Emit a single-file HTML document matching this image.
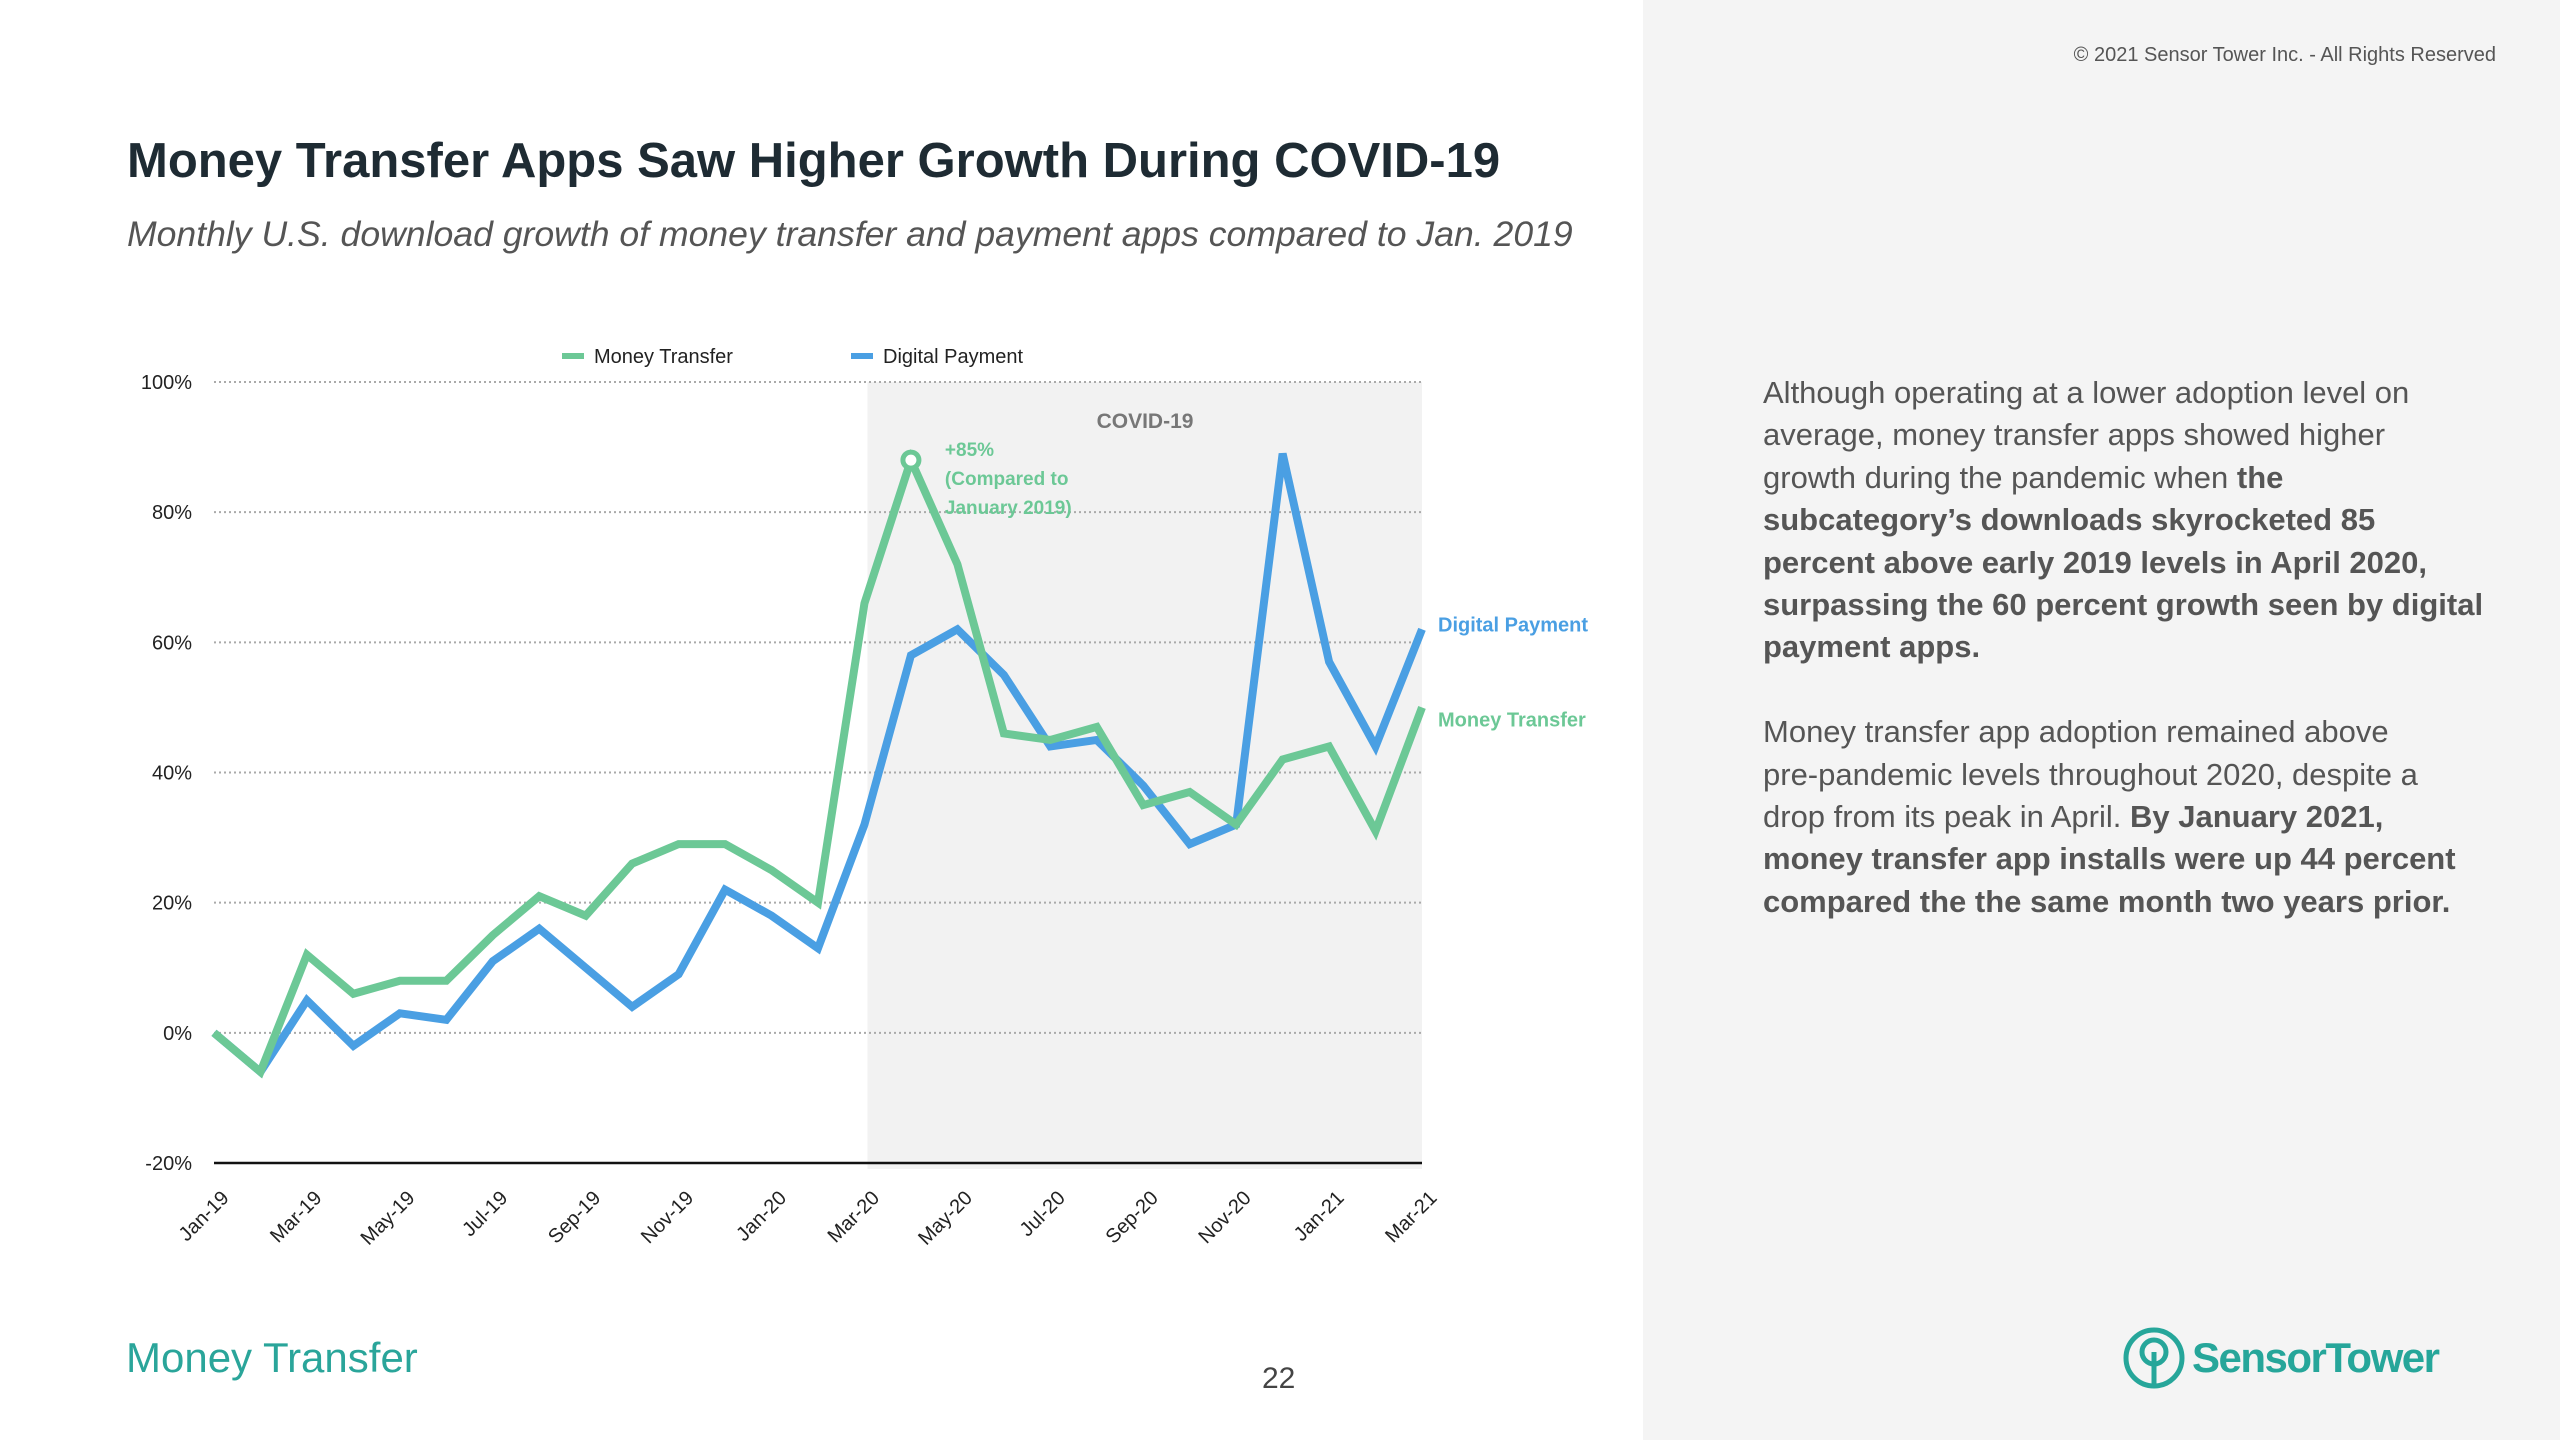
<!DOCTYPE html>
<html><head><meta charset="utf-8"><style>
body{margin:0;width:2560px;height:1440px;overflow:hidden;background:#fff;font-family:"Liberation Sans",sans-serif;position:relative}
.abs{position:absolute}
</style></head><body>
<div class="abs" style="left:1643px;top:0;width:917px;height:1440px;background:#f4f4f4"></div>
<div class="abs" style="right:64px;top:44px;font-size:20px;color:#555">© 2021 Sensor Tower Inc. - All Rights Reserved</div>
<div class="abs" style="left:127px;top:133px;font-size:49px;font-weight:bold;color:#1e2b33">Money Transfer Apps Saw Higher Growth During COVID-19</div>
<div class="abs" style="left:127px;top:214px;font-size:35.6px;font-style:italic;color:#555">Monthly U.S. download growth of money transfer and payment apps compared to Jan. 2019</div>
<div class="abs" style="left:1763px;top:372px;white-space:nowrap;font-size:31px;line-height:42.4px;color:#555">Although operating at a lower adoption level on<br>average, money transfer apps showed higher<br>growth during the pandemic when <b>the<br>subcategory’s downloads skyrocketed 85<br>percent above early 2019 levels in April 2020,<br>surpassing the 60 percent growth seen by digital<br>payment apps.</b><br><br>Money transfer app adoption remained above<br>pre-pandemic levels throughout 2020, despite a<br>drop from its peak in April. <b>By January 2021,<br>money transfer app installs were up 44 percent<br>compared the the same month two years prior.</b></div>
<div class="abs" style="left:126px;top:1334px;font-size:42px;color:#2aa59a">Money Transfer</div>
<div class="abs" style="left:1262px;top:1362px;font-size:30px;color:#444">22</div>
<div class="abs" style="left:2122px;top:1326px;height:64px;display:flex;align-items:center">
<svg width="64" height="64" viewBox="0 0 64 64"><circle cx="32" cy="32" r="28" fill="none" stroke="#26a69a" stroke-width="5"/><circle cx="32" cy="26" r="12" fill="none" stroke="#26a69a" stroke-width="5"/><line x1="32" y1="26" x2="32" y2="60" stroke="#26a69a" stroke-width="5"/></svg>
<span style="font-size:42px;font-weight:bold;color:#26a69a;margin-left:6px;letter-spacing:-1.5px">SensorTower</span></div>
<svg id="chart" class="abs" style="left:0;top:0" width="1643" height="1300"></svg>
<script>
const months=["Jan-19","Feb-19","Mar-19","Apr-19","May-19","Jun-19","Jul-19","Aug-19","Sep-19","Oct-19","Nov-19","Dec-19","Jan-20","Feb-20","Mar-20","Apr-20","May-20","Jun-20","Jul-20","Aug-20","Sep-20","Oct-20","Nov-20","Dec-20","Jan-21","Feb-21","Mar-21"];
const moneyTransfer=[0,-6,12,6,8,8,15,21,18,26,29,29,25,20,66,88,72,46,45,47,35,37,32,42,44,31,50];
const digitalPayment=[0,-6,5,-2,3,2,11,16,10,4,9,22,18,13,32,58,62,55,44,45,38,29,32,89,57,44,62];
const yTicks=[-20,0,20,40,60,80,100];
const yTickLabels=["-20%","0%","20%","40%","60%","80%","100%"];
const covidStart=14;
const peakIndex=15;
const svg=document.getElementById('chart');
const NS='http://www.w3.org/2000/svg';
const x0=214,x1=1422,yTop=382,yBot=1163;
const X=i=>x0+(x1-x0)*i/(months.length-1);
const Y=v=>yBot-(v+20)/120*(yBot-yTop);
function mk(t,a,txt){const e=document.createElementNS(NS,t);for(const k in a)e.setAttribute(k,a[k]);if(txt!==undefined)e.textContent=txt;svg.appendChild(e);return e;}
let r=mk('rect',{x:X(covidStart)+3,y:yTop,width:x1-X(covidStart)-3,height:yBot-yTop+6,fill:'#f2f2f2'});


let ct=mk('text',{x:1145,y:428,'font-size':21,'font-weight':'bold',fill:'#777','text-anchor':'middle'},'COVID-19');


yTicks.forEach((v,i)=>{
 if(v!==-20){let g=mk('line',{x1:x0,x2:x1,y1:Y(v),y2:Y(v),stroke:'#aaa','stroke-width':2,'stroke-dasharray':'2 3'});
 
 }
 let t=mk('text',{x:192,y:Y(v)+7,'font-size':20,fill:'#222','text-anchor':'end'},yTickLabels[i]);
 
 
});
let ax=mk('line',{x1:x0,x2:x1,y1:yBot,y2:yBot,stroke:'#111','stroke-width':2.5});


months.forEach((m,i)=>{if(i%2)return;
 let t=mk('text',{x:X(i)+16,y:yBot+36,'font-size':20,fill:'#222','text-anchor':'end',transform:`rotate(-45 ${X(i)+16} ${yBot+36})`},m);
 
 
});
function line(data,color,name){
 let p=mk('polyline',{points:data.map((v,i)=>X(i)+','+Y(v)).join(' '),fill:'none',stroke:color,'stroke-width':8,'stroke-linejoin':'miter'});
 
 
}
line(digitalPayment,'#4a9fe3','digital-payment-line');
line(moneyTransfer,'#6cc896','money-transfer-line');
let c=mk('circle',{cx:X(peakIndex),cy:Y(moneyTransfer[peakIndex]),r:8,fill:'#fff',stroke:'#6cc896','stroke-width':5});


['+85%','(Compared to','January 2019)'].forEach((s,i)=>{
 let t=mk('text',{x:X(peakIndex)+34,y:456+i*29,'font-size':19,'font-weight':'bold',fill:'#6cc896'},s);
 
 
});
let e1=mk('text',{x:1438,y:Y(digitalPayment[26])+2,'font-size':20,'font-weight':'bold',fill:'#4a9fe3'},'Digital Payment');


let e2=mk('text',{x:1438,y:Y(moneyTransfer[26])+19,'font-size':20,'font-weight':'bold',fill:'#6cc896'},'Money Transfer');


[[562,'#6cc896','Money Transfer','legend-money-transfer'],[851,'#4a9fe3','Digital Payment','legend-digital-payment']].forEach(l=>{
 let s=mk('line',{x1:l[0],x2:l[0]+22,y1:356,y2:356,stroke:l[1],'stroke-width':6});
 
 
 let t=mk('text',{x:l[0]+32,y:363,'font-size':20,fill:'#222'},l[2]);
 
 
});
</script>
</body></html>
